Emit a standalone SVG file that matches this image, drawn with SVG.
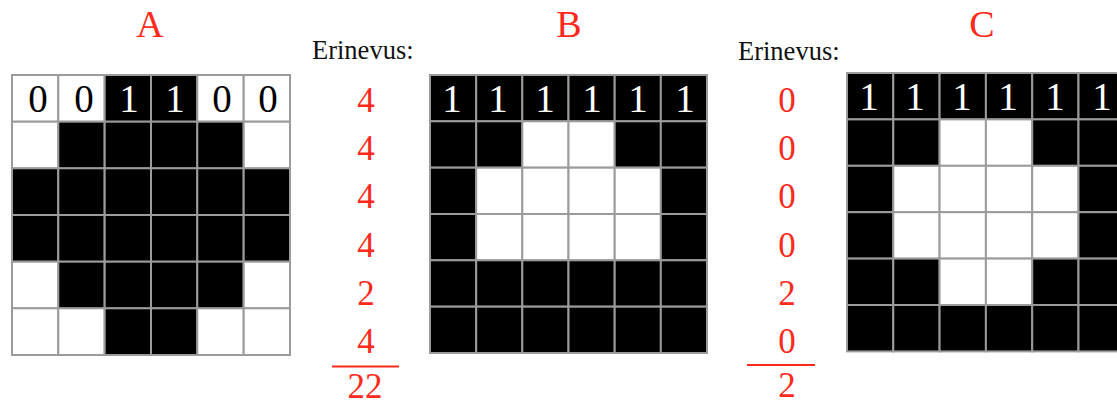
<svg xmlns="http://www.w3.org/2000/svg" width="1117" height="404" viewBox="0 0 1117 404">
<style>
.b{fill:#000;stroke:#9b9b9b;stroke-width:2}
.w{fill:#fff;stroke:#9b9b9b;stroke-width:2}
.t{font-family:"Liberation Serif","Times New Roman",serif;fill:#ff2a1c;font-size:38px;text-anchor:middle}
.n{font-family:"Liberation Serif","Times New Roman",serif;fill:#ff2a1c;font-size:35px;text-anchor:middle}
.e{font-family:"Liberation Serif","Times New Roman",serif;fill:#111;font-size:26.5px}
.dk{font-family:"Liberation Serif","Times New Roman",serif;fill:#000;font-size:39px;text-anchor:middle}
.dw{font-family:"Liberation Serif","Times New Roman",serif;fill:#fff;font-size:39px;text-anchor:middle}
.ln{stroke:#ff2a1c;stroke-width:2}
</style>
<rect width="1117" height="404" fill="#fff"/>
<g id="titles">
<text class="t" x="150" y="37">A</text>
<text class="t" x="569" y="37">B</text>
<text class="t" x="982" y="37">C</text>
</g>
<g id="gridA">
<rect class="w" x="12" y="75" width="46.3" height="46.7"/><rect class="w" x="58.3" y="75" width="46.3" height="46.7"/><rect class="b" x="104.7" y="75" width="46.3" height="46.7"/><rect class="b" x="151" y="75" width="46.3" height="46.7"/><rect class="w" x="197.3" y="75" width="46.3" height="46.7"/><rect class="w" x="243.7" y="75" width="46.3" height="46.7"/>
<rect class="w" x="12" y="121.7" width="46.3" height="46.7"/><rect class="b" x="58.3" y="121.7" width="46.3" height="46.7"/><rect class="b" x="104.7" y="121.7" width="46.3" height="46.7"/><rect class="b" x="151" y="121.7" width="46.3" height="46.7"/><rect class="b" x="197.3" y="121.7" width="46.3" height="46.7"/><rect class="w" x="243.7" y="121.7" width="46.3" height="46.7"/>
<rect class="b" x="12" y="168.3" width="46.3" height="46.7"/><rect class="b" x="58.3" y="168.3" width="46.3" height="46.7"/><rect class="b" x="104.7" y="168.3" width="46.3" height="46.7"/><rect class="b" x="151" y="168.3" width="46.3" height="46.7"/><rect class="b" x="197.3" y="168.3" width="46.3" height="46.7"/><rect class="b" x="243.7" y="168.3" width="46.3" height="46.7"/>
<rect class="b" x="12" y="215" width="46.3" height="46.7"/><rect class="b" x="58.3" y="215" width="46.3" height="46.7"/><rect class="b" x="104.7" y="215" width="46.3" height="46.7"/><rect class="b" x="151" y="215" width="46.3" height="46.7"/><rect class="b" x="197.3" y="215" width="46.3" height="46.7"/><rect class="b" x="243.7" y="215" width="46.3" height="46.7"/>
<rect class="w" x="12" y="261.7" width="46.3" height="46.7"/><rect class="b" x="58.3" y="261.7" width="46.3" height="46.7"/><rect class="b" x="104.7" y="261.7" width="46.3" height="46.7"/><rect class="b" x="151" y="261.7" width="46.3" height="46.7"/><rect class="b" x="197.3" y="261.7" width="46.3" height="46.7"/><rect class="w" x="243.7" y="261.7" width="46.3" height="46.7"/>
<rect class="w" x="12" y="308.3" width="46.3" height="46.7"/><rect class="w" x="58.3" y="308.3" width="46.3" height="46.7"/><rect class="b" x="104.7" y="308.3" width="46.3" height="46.7"/><rect class="b" x="151" y="308.3" width="46.3" height="46.7"/><rect class="w" x="197.3" y="308.3" width="46.3" height="46.7"/><rect class="w" x="243.7" y="308.3" width="46.3" height="46.7"/>
<text class="dk" x="38" y="112">0</text><text class="dk" x="84" y="112">0</text><text class="dw" x="129" y="112">1</text><text class="dw" x="175" y="112">1</text><text class="dk" x="222" y="112">0</text><text class="dk" x="268" y="112">0</text>
</g>
<g id="diffAB">
<text class="e" x="312" y="59">Erinevus:</text>
<text class="n" x="366" y="112">4</text>
<text class="n" x="366" y="160">4</text>
<text class="n" x="366" y="208">4</text>
<text class="n" x="366" y="257">4</text>
<text class="n" x="366" y="305">2</text>
<text class="n" x="366" y="353">4</text>
<line class="ln" x1="332" y1="366.5" x2="399" y2="366.5"/>
<text class="n" x="365" y="398">22</text>
</g>
<g id="gridB">
<rect class="b" x="430" y="75" width="46.2" height="46.3"/><rect class="b" x="476.2" y="75" width="46.2" height="46.3"/><rect class="b" x="522.3" y="75" width="46.2" height="46.3"/><rect class="b" x="568.5" y="75" width="46.2" height="46.3"/><rect class="b" x="614.7" y="75" width="46.2" height="46.3"/><rect class="b" x="660.8" y="75" width="46.2" height="46.3"/>
<rect class="b" x="430" y="121.3" width="46.2" height="46.3"/><rect class="b" x="476.2" y="121.3" width="46.2" height="46.3"/><rect class="w" x="522.3" y="121.3" width="46.2" height="46.3"/><rect class="w" x="568.5" y="121.3" width="46.2" height="46.3"/><rect class="b" x="614.7" y="121.3" width="46.2" height="46.3"/><rect class="b" x="660.8" y="121.3" width="46.2" height="46.3"/>
<rect class="b" x="430" y="167.7" width="46.2" height="46.3"/><rect class="w" x="476.2" y="167.7" width="46.2" height="46.3"/><rect class="w" x="522.3" y="167.7" width="46.2" height="46.3"/><rect class="w" x="568.5" y="167.7" width="46.2" height="46.3"/><rect class="w" x="614.7" y="167.7" width="46.2" height="46.3"/><rect class="b" x="660.8" y="167.7" width="46.2" height="46.3"/>
<rect class="b" x="430" y="214" width="46.2" height="46.3"/><rect class="w" x="476.2" y="214" width="46.2" height="46.3"/><rect class="w" x="522.3" y="214" width="46.2" height="46.3"/><rect class="w" x="568.5" y="214" width="46.2" height="46.3"/><rect class="w" x="614.7" y="214" width="46.2" height="46.3"/><rect class="b" x="660.8" y="214" width="46.2" height="46.3"/>
<rect class="b" x="430" y="260.3" width="46.2" height="46.3"/><rect class="b" x="476.2" y="260.3" width="46.2" height="46.3"/><rect class="b" x="522.3" y="260.3" width="46.2" height="46.3"/><rect class="b" x="568.5" y="260.3" width="46.2" height="46.3"/><rect class="b" x="614.7" y="260.3" width="46.2" height="46.3"/><rect class="b" x="660.8" y="260.3" width="46.2" height="46.3"/>
<rect class="b" x="430" y="306.7" width="46.2" height="46.3"/><rect class="b" x="476.2" y="306.7" width="46.2" height="46.3"/><rect class="b" x="522.3" y="306.7" width="46.2" height="46.3"/><rect class="b" x="568.5" y="306.7" width="46.2" height="46.3"/><rect class="b" x="614.7" y="306.7" width="46.2" height="46.3"/><rect class="b" x="660.8" y="306.7" width="46.2" height="46.3"/>
<text class="dw" x="452" y="112">1</text><text class="dw" x="498" y="112">1</text><text class="dw" x="545" y="112">1</text><text class="dw" x="592" y="112">1</text><text class="dw" x="638" y="112">1</text><text class="dw" x="685" y="112">1</text>
</g>
<g id="diffAC">
<text class="e" x="738" y="60">Erinevus:</text>
<text class="n" x="787" y="112">0</text>
<text class="n" x="787" y="160">0</text>
<text class="n" x="787" y="208">0</text>
<text class="n" x="787" y="257">0</text>
<text class="n" x="787" y="305">2</text>
<text class="n" x="787" y="353">0</text>
<line class="ln" x1="747" y1="365" x2="815" y2="365"/>
<text class="n" x="787" y="397">2</text>
</g>
<g id="gridC">
<rect class="b" x="847" y="73" width="46.3" height="46.4"/><rect class="b" x="893.3" y="73" width="46.3" height="46.4"/><rect class="b" x="939.6" y="73" width="46.3" height="46.4"/><rect class="b" x="985.9" y="73" width="46.3" height="46.4"/><rect class="b" x="1032.2" y="73" width="46.3" height="46.4"/><rect class="b" x="1078.5" y="73" width="46.3" height="46.4"/>
<rect class="b" x="847" y="119.4" width="46.3" height="46.4"/><rect class="b" x="893.3" y="119.4" width="46.3" height="46.4"/><rect class="w" x="939.6" y="119.4" width="46.3" height="46.4"/><rect class="w" x="985.9" y="119.4" width="46.3" height="46.4"/><rect class="b" x="1032.2" y="119.4" width="46.3" height="46.4"/><rect class="b" x="1078.5" y="119.4" width="46.3" height="46.4"/>
<rect class="b" x="847" y="165.8" width="46.3" height="46.4"/><rect class="w" x="893.3" y="165.8" width="46.3" height="46.4"/><rect class="w" x="939.6" y="165.8" width="46.3" height="46.4"/><rect class="w" x="985.9" y="165.8" width="46.3" height="46.4"/><rect class="w" x="1032.2" y="165.8" width="46.3" height="46.4"/><rect class="b" x="1078.5" y="165.8" width="46.3" height="46.4"/>
<rect class="b" x="847" y="212.2" width="46.3" height="46.4"/><rect class="w" x="893.3" y="212.2" width="46.3" height="46.4"/><rect class="w" x="939.6" y="212.2" width="46.3" height="46.4"/><rect class="w" x="985.9" y="212.2" width="46.3" height="46.4"/><rect class="w" x="1032.2" y="212.2" width="46.3" height="46.4"/><rect class="b" x="1078.5" y="212.2" width="46.3" height="46.4"/>
<rect class="b" x="847" y="258.6" width="46.3" height="46.4"/><rect class="b" x="893.3" y="258.6" width="46.3" height="46.4"/><rect class="w" x="939.6" y="258.6" width="46.3" height="46.4"/><rect class="w" x="985.9" y="258.6" width="46.3" height="46.4"/><rect class="b" x="1032.2" y="258.6" width="46.3" height="46.4"/><rect class="b" x="1078.5" y="258.6" width="46.3" height="46.4"/>
<rect class="b" x="847" y="305" width="46.3" height="46.4"/><rect class="b" x="893.3" y="305" width="46.3" height="46.4"/><rect class="b" x="939.6" y="305" width="46.3" height="46.4"/><rect class="b" x="985.9" y="305" width="46.3" height="46.4"/><rect class="b" x="1032.2" y="305" width="46.3" height="46.4"/><rect class="b" x="1078.5" y="305" width="46.3" height="46.4"/>
<text class="dw" x="869" y="110">1</text><text class="dw" x="915" y="110">1</text><text class="dw" x="962" y="110">1</text><text class="dw" x="1008" y="110">1</text><text class="dw" x="1055" y="110">1</text><text class="dw" x="1102" y="110">1</text>
</g>
</svg>
